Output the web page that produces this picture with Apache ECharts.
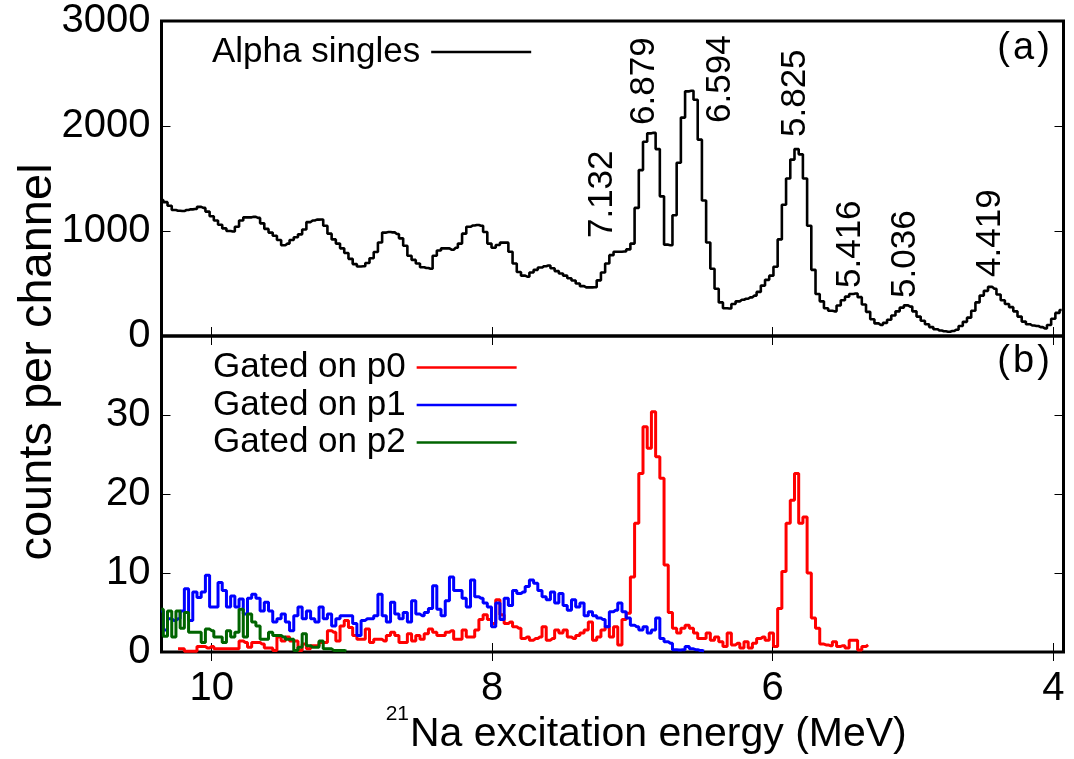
<!DOCTYPE html>
<html><head><meta charset="utf-8">
<script src="https://cdn.jsdelivr.net/npm/echarts@6/dist/echarts.min.js"></script>
<style>html,body{margin:0;padding:0;background:#fff}#c{width:1074px;height:759px}</style>
</head><body><div id="c"></div>
<script>
// ---- data ----
const binStart = 10.36;   // MeV, centre of first channel
const binWidth = 0.03;    // MeV per channel
const alphaSingles = [
 1295,1275,1240,1200,1193,1190,1200,1206,1210,1230,
 1220,1185,1140,1100,1060,1025,1000,995,1040,1100,
 1130,1130,1135,1125,1073,1020,985,955,914,865,
 880,915,940,968,1015,1085,1100,1108,1110,1050,
 975,920,880,835,790,735,685,662,664,695,
 740,800,890,985,990,987,972,930,860,765,
 725,690,655,647,640,765,815,835,835,822,
 840,880,975,1040,1052,1057,1050,990,880,840,
 867,889,889,803,690,610,575,565,605,630,
 652,665,672,645,618,595,575,550,528,500,
 475,463,463,465,530,605,690,770,803,803,
 805,825,880,1220,1580,1850,1930,1935,1780,1330,
 870,865,1150,1650,2080,2330,2336,2250,1870,1290,
 890,640,450,320,264,262,305,330,345,355,
 368,385,420,480,535,575,660,920,1250,1500,
 1680,1780,1730,1500,1050,630,400,330,265,240,
 235,290,340,375,400,405,370,300,230,160,
 120,105,125,155,195,235,270,292,280,235,
 185,145,112,85,65,52,45,41,48,60,
 95,135,175,240,320,385,430,468,450,395,
 340,305,275,235,185,137,112,100,95,85,
 72,105,165,220,248];
const gatedP0Start = 4;
const gatedP0 = [
 0.4,0.4,0.1,0.1,0.1,0.7,0.7,0.5,0.7,0.4,
 0.4,0.4,0.4,0.4,0.4,1.4,1.2,0.6,1.2,1.2,
 1.0,0.5,0.5,0.2,1.9,1.4,1.9,1.4,1.4,0.2,
 1.0,0.4,0.8,0.8,1.2,1.2,2.7,2.5,1.4,3.3,
 4.0,3.1,2.1,1.6,1.6,2.9,1.2,1.6,1.6,1.4,
 2.1,2.5,2.1,1.2,1.2,2.3,1.4,2.1,1.6,2.3,
 2.9,2.5,2.1,2.1,2.5,2.7,1.6,1.6,2.8,1.9,
 1.9,2.8,4.1,4.7,4.1,3.6,6.6,4.7,3.6,3.8,
 3.2,3.0,1.7,1.9,1.5,1.7,1.9,3.2,1.5,1.7,
 2.8,2.4,2.8,1.9,1.7,2.1,2.4,2.8,3.8,1.5,
 1.9,2.8,3.2,1.9,3.2,0.9,4.1,4.9,9.5,16.3,
 22.6,28.5,25.8,30.4,24.7,22.0,11.0,5.0,3.0,2.4,
 3.0,3.4,3.0,2.4,1.7,1.7,2.4,1.5,1.9,1.3,
 0.7,2.4,0.9,1.1,0.5,1.3,0.5,1.1,1.7,1.9,
 1.5,2.4,0.7,5.5,10.2,16.3,19.2,22.6,16.3,17.1,
 10.0,4.3,3.0,1.0,0.9,0.8,1.3,0.7,0.8,0.5,
 1.5,1.5,0.25,0.7,0.9];
const gatedP1Start = 0;
const gatedP1 = [
 5.2,2.8,4.2,4.0,4.2,5.2,8.0,4.0,7.6,6.9,
 7.6,9.7,5.7,5.7,8.8,7.8,5.7,7.1,5.7,6.7,
 4.8,6.8,7.3,6.8,5.2,6.3,5.2,3.8,4.2,4.8,
 3.8,2.7,4.6,5.7,4.2,5.2,4.2,3.8,5.7,4.2,
 4.8,3.3,4.2,4.6,4.6,4.6,3.6,2.1,4.0,4.2,
 4.2,4.6,7.3,4.6,3.8,6.3,4.8,4.2,5.0,3.8,
 6.5,4.8,4.6,5.0,5.5,8.4,5.4,4.6,6.5,9.5,
 7.8,7.8,6.8,5.7,9.1,7.0,6.8,6.2,5.7,3.2,
 6.2,4.1,6.8,5.9,7.8,7.4,7.6,8.3,9.1,8.7,
 7.8,7.0,6.6,7.6,6.2,7.4,5.9,5.3,6.6,5.7,
 6.2,4.6,5.1,4.6,4.3,4.1,3.2,5.1,5.3,6.2,
 5.1,4.3,3.4,3.2,2.8,3.2,2.4,2.8,4.3,1.7,
 1.3,1.1,0.3,0.25,0.3,0.7,0.4,0.3,0.2,0.1];
const gatedP2Start = 0;
const gatedP2 = [
 5.4,2.0,5.2,1.9,5.2,3.0,5.0,2.5,2.5,2.5,
 1.2,2.9,2.7,1.9,1.9,1.2,2.7,1.9,2.5,5.4,
 1.9,4.8,3.8,3.3,1.6,1.6,2.5,2.1,2.1,1.9,
 1.6,1.6,0.2,0.6,2.3,0.8,0.6,0.6,1.4,0.4,
 0.4,0.2,0.2,0.2,0.1];
const xTickValues = [4, 6, 8, 10];
const seriesNames = ['Alpha singles', 'Gated on p0', 'Gated on p1', 'Gated on p2'];
const peakLabels = ['7.132','6.879','6.594','5.825','5.416','5.036','4.419'];
const peakLabelE = [7.214, 6.914, 6.373, 5.838, 5.446, 5.054, 4.448];
const peakLabelCounts = [933, 2010, 2029, 1895, 457, 362, 562];

// ---- chart ----
const FONT = '"Liberation Sans", Arial, sans-serif';
function toPairs(vals, start) {
  return vals.map((v, k) => [+(binStart - binWidth * (start + k)).toFixed(3), v]);
}
const xMin = 3.927, xMax = 10.358;
function xAx(grid, pos, labels) {
  return {
    type: 'value', gridIndex: grid, position: pos, min: xMin, max: xMax, inverse: true,
    axisLine: { show: false }, splitLine: { show: false },
    axisTick: { show: true, inside: true, length: 9, lineStyle: { color: '#000', width: 1 }, customValues: xTickValues },
    axisLabel: { show: labels, customValues: xTickValues, fontSize: 40, fontFamily: FONT, color: '#000', margin: 17 }
  };
}
function yAx(grid, pos, max, interval, labels, hideTop) {
  return {
    type: 'value', gridIndex: grid, position: pos, min: 0, max: max, interval: interval,
    axisLine: { show: false }, splitLine: { show: false },
    axisTick: { show: true, inside: true, length: 9, lineStyle: { color: '#000', width: 1 } },
    axisLabel: {
      show: labels, fontSize: 40, fontFamily: FONT, color: '#000', margin: 11,
      formatter: v => (hideTop && v === max) ? '' : String(v)
    }
  };
}
const chart = echarts.init(document.getElementById('c'));
const lineBase = { type: 'line', step: 'middle', showSymbol: false, symbol: 'none', animation: false };
chart.setOption({
  animation: false,
  backgroundColor: '#fff',
  grid: [
    { left: 161.5, right: 10.5, top: 21, height: 315, show: true, borderColor: '#000', borderWidth: 3, backgroundColor: 'transparent' },
    { left: 161.5, right: 10.5, top: 336, height: 316, show: true, borderColor: '#000', borderWidth: 3, backgroundColor: 'transparent' }
  ],
  xAxis: [xAx(0, 'bottom', false), xAx(0, 'top', false), xAx(1, 'bottom', true), xAx(1, 'top', false)],
  yAxis: [yAx(0, 'left', 3000, 1000, true, false), yAx(0, 'right', 3000, 1000, false, false),
          yAx(1, 'left', 40, 10, true, true), yAx(1, 'right', 40, 10, false, true)],
  legend: [
    { data: [seriesNames[0]], left: 212, top: 34.5, padding: 0, align: 'right', icon: 'rect', itemWidth: 100, itemHeight: 2.5,
      selectedMode: false, textStyle: { fontSize: 35, lineHeight: 35, fontFamily: FONT, color: '#000', padding: [0, 6, 0, 0] } },
    { data: seriesNames.slice(1), left: 213, top: 350, padding: 0, orient: 'vertical', align: 'right', icon: 'rect',
      itemWidth: 100, itemHeight: 2.5, itemGap: 2.5, selectedMode: false,
      textStyle: { fontSize: 35, lineHeight: 35, fontFamily: FONT, color: '#000', padding: [0, 6, 0, 0] } }
  ],
  series: [
    Object.assign({}, lineBase, { name: seriesNames[0], xAxisIndex: 0, yAxisIndex: 0, data: toPairs(alphaSingles, 0),
      lineStyle: { color: '#000', width: 2.6 }, itemStyle: { color: '#000' } }),
    Object.assign({}, lineBase, { name: seriesNames[1], xAxisIndex: 2, yAxisIndex: 2, data: toPairs(gatedP0, gatedP0Start),
      lineStyle: { color: '#ff0000', width: 3 }, itemStyle: { color: '#ff0000' } }),
    Object.assign({}, lineBase, { name: seriesNames[2], xAxisIndex: 2, yAxisIndex: 2, data: toPairs(gatedP1, gatedP1Start),
      lineStyle: { color: '#0000ff', width: 3 }, itemStyle: { color: '#0000ff' } }),
    Object.assign({}, lineBase, { name: seriesNames[3], xAxisIndex: 2, yAxisIndex: 2, data: toPairs(gatedP2, gatedP2Start),
      lineStyle: { color: '#006400', width: 3 }, itemStyle: { color: '#006400' } })
  ]
});

// annotations placed through the chart's own coordinate system
const graphics = [];
peakLabels.forEach((t, i) => {
  const p = chart.convertToPixel({ xAxisIndex: 0, yAxisIndex: 0 }, [peakLabelE[i], peakLabelCounts[i]]);
  graphics.push({ type: 'text', x: p[0], y: p[1], rotation: Math.PI / 2, silent: true,
    style: { text: t, font: '35px ' + FONT, fill: '#000', align: 'left', verticalAlign: 'middle' } });
});
graphics.push({ type: 'text', x: 1050, y: 49, silent: true,
  style: { text: '(\u200Aa\u200A)', font: '38px ' + FONT, fill: '#000', align: 'right', verticalAlign: 'middle' } });
graphics.push({ type: 'text', x: 1050, y: 362, silent: true,
  style: { text: '(\u200Ab\u200A)', font: '38px ' + FONT, fill: '#000', align: 'right', verticalAlign: 'middle' } });
graphics.push({ type: 'text', x: 38, y: 362, rotation: Math.PI / 2, silent: true,
  style: { text: 'counts per channel', font: '47px ' + FONT, fill: '#000', align: 'center', verticalAlign: 'middle' } });
graphics.push({ type: 'text', x: 410, y: 735, silent: true,
  style: { text: 'Na excitation energy (MeV)', font: '41px ' + FONT, fill: '#000', align: 'left', verticalAlign: 'middle' } });
graphics.push({ type: 'text', x: 409, y: 714, silent: true,
  style: { text: '21', font: '21px ' + FONT, fill: '#000', align: 'right', verticalAlign: 'middle' } });
chart.setOption({ graphic: graphics });
</script></body></html>
